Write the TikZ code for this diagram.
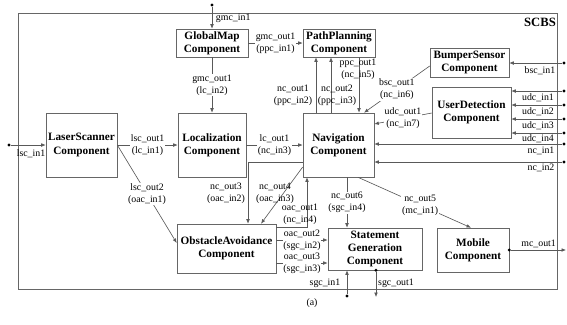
\documentclass[tikz,border=0pt]{standalone}
\usepackage{fontspec}
\setmainfont{Liberation Serif}
\usepackage{tikz}
\usetikzlibrary{arrows.meta, calc}
\usepackage{xcolor}

\newcommand{\compfont}{\fontsize{8}{9.5}\selectfont\bfseries}
\newcommand{\lblfont}{\fontsize{7}{8.5}\selectfont}

\begin{document}
\begin{tikzpicture}[x=0.025cm, y=-0.025cm,
  comp/.style={draw=black!60, align=center, font=\compfont, inner sep=1pt},
  lbl/.style={font=\lblfont, align=center, inner sep=0.5pt},
  wlbl/.style={lbl, fill=white},
  conn/.style={draw=black!65, line width=0.45pt, -{Latex[length=3.2pt, width=2.6pt]}},
  pindot/.style={circle, fill=black, inner sep=0pt, minimum size=2.4pt}]
  \useasboundingbox (0,0) rectangle (567,324);

  % SCBS frame
  \draw[black!60] (18,13) rectangle (557,289);
  \node[font=\fontsize{9}{10}\selectfont\bfseries] (scbs) at (540,22) {SCBS};

  % components
  \node[comp, minimum width=1.8cm, minimum height=0.7cm] (gm) at (212,43) {GlobalMap\\Component};
  \node[comp, minimum width=1.8cm, minimum height=0.7cm] (pp) at (339,43) {PathPlanning\\Component};
  \node[comp, minimum width=1.975cm, minimum height=0.725cm] (bs) at (469.5,62.5) {BumperSensor\\Component};
  \node[comp, minimum width=1.975cm, minimum height=1.275cm] (ud) at (471.5,112.5) {UserDetection\\Component};
  \node[comp, minimum width=1.775cm, minimum height=1.6cm] (ls) at (81.5,145) {LaserScanner\\Component};
  \node[comp, minimum width=1.7cm, minimum height=1.6cm] (loc) at (212,145) {Localization\\Component};
  \node[comp, minimum width=1.775cm, minimum height=1.6cm] (nav) at (338.5,145) {Navigation\\Component};
  \node[comp, minimum width=2.475cm, minimum height=1.225cm] (oa) at (226.5,248.5) {ObstacleAvoidance\\Component};
  \node[comp, minimum width=2.35cm, minimum height=1.05cm] (st) at (375,249) {Statement\\Generation\\Component};
  \node[comp, minimum width=1.8cm, minimum height=1.1cm] (mo) at (473,250) {Mobile\\Component};

  % external inputs
  \node[pindot] (gin) at (212,5) {};
  \draw[conn] (gin) -- (gm.north);
  \node[lbl, anchor=west] at (215,18) {gmc\_in1};

  \node[pindot] (lin) at (9,145) {};
  \draw[conn] (lin) -- (ls.west);
  \node[lbl] at (31,154) {lsc\_in1};

  \node[pindot] (bin) at (564,63) {};
  \draw[conn] (bin) -- (bin -| bs.east);
  \node[lbl] at (540,71) {bsc\_in1};

  \node[pindot] (uin1) at (564,91) {};
  \node[pindot] (uin2) at (564,105) {};
  \node[pindot] (uin3) at (564,119) {};
  \node[pindot] (uin4) at (564,133) {};
  \draw[conn] (uin1) -- (uin1 -| ud.east);
  \draw[conn] (uin2) -- (uin2 -| ud.east);
  \draw[conn] (uin3) -- (uin3 -| ud.east);
  \draw[conn] (uin4) -- (uin4 -| ud.east);
  \node[lbl] at (538,98) {udc\_in1};
  \node[lbl] at (538,112) {udc\_in2};
  \node[lbl] at (538,126) {udc\_in3};
  \node[lbl] at (538,139) {udc\_in4};

  \node[pindot] (nin1) at (564,144) {};
  \node[pindot] (nin2) at (564,162) {};
  \draw[conn] (nin1) -- (nin1 -| nav.east);
  \draw[conn] (nin2) -- (nin2 -| nav.east);
  \node[lbl] at (541,151) {nc\_in1};
  \node[lbl] at (541,168) {nc\_in2};

  \node[pindot] (sin) at (347,296) {};
  \draw[conn] (sin) -- (sin |- st.south);
  \node[lbl] at (325,283) {sgc\_in1};

  % external outputs
  \node[pindot] (mout) at (mo.east) {};
  \coordinate (mend) at (566,250);
  \draw[conn] (mout) -- (mend) node[lbl, midway, above=1pt] {mc\_out1};

  \node[pindot] (sout) at (st.south -| 376,0) {};
  \coordinate (send) at (376,297);
  \draw[conn] (sout) -- (send);
  \node[lbl] at (396,283) {sgc\_out1};

  % internal connections
  \draw[conn] (gm.south) -- (loc.north) node[wlbl, midway] {gmc\_out1\\(lc\_in2)};
  \draw[conn] (gm.east) -- (pp.west) node[wlbl, midway] {gmc\_out1\\(ppc\_in1)};
  \draw[conn] (ls.east) -- (loc.west) node[wlbl, midway] {lsc\_out1\\(lc\_in1)};
  \draw[conn] (loc.east) -- (nav.west) node[wlbl, midway] {lc\_out1\\(nc\_in3)};
  \draw[conn] (ls.east) -- (oa.west |- 0,243) node[wlbl, midway] {lsc\_out2\\(oac\_in1)};

  \draw[conn] (nav.north -| 316,0) -- (pp.south -| 316,0);
  \node[lbl] at (293,95) {nc\_out1\\(ppc\_in2)};
  \draw[conn] (nav.north -| 331,0) -- (pp.south -| 331,0);
  \node[lbl] at (337,95) {nc\_out2\\(ppc\_in3)};
  \draw[conn] (pp.south -| 359,0) -- (nav.north -| 359,0);
  \node[lbl] at (358,69) {ppc\_out1\\(nc\_in5)};

  \draw[conn] (bs.west |- 0,66) -- (nav.north -| 364,0) node[wlbl, midway] {bsc\_out1\\(nc\_in6)};
  \draw[conn] (ud.west |- 0,113) -- (nav.east |- 0,124) node[wlbl, midway] {udc\_out1\\(nc\_in7)};

  \draw[conn] (nav.west |- 0,162) -| (oa.north -| 248,0);
  \node[lbl] at (226,193) {nc\_out3\\(oac\_in2)};
  \draw[conn] (nav.west |- 0,167) -- (oa.north -| 261,0);
  \node[lbl] at (275,193) {nc\_out4\\(oac\_in3)};
  \draw[conn] (oa.east |- 0,227) -| (nav.south -| 307,0);
  \node[lbl] at (300,214) {oac\_out1\\(nc\_in4)};

  \draw[conn] (oa.east |- 0,240) -- (st.west |- 0,240) node[wlbl, midway] {oac\_out2\\(sgc\_in2)};
  \draw[conn] (oa.east |- 0,263) -- (st.west |- 0,263) node[wlbl, midway] {oac\_out3\\(sgc\_in3)};

  \draw[conn] (nav.south -| 347,0) -- (st.north -| 347,0) node[wlbl, midway] {nc\_out6\\(sgc\_in4)};
  \draw[conn] (nav.south -| 358,0) -- (mo.north -| 471,0) node[wlbl, pos=0.55] {nc\_out5\\(mc\_in1)};

  \node[lbl] (cap) at (312,303) {(a)};
\end{tikzpicture}
\end{document}
